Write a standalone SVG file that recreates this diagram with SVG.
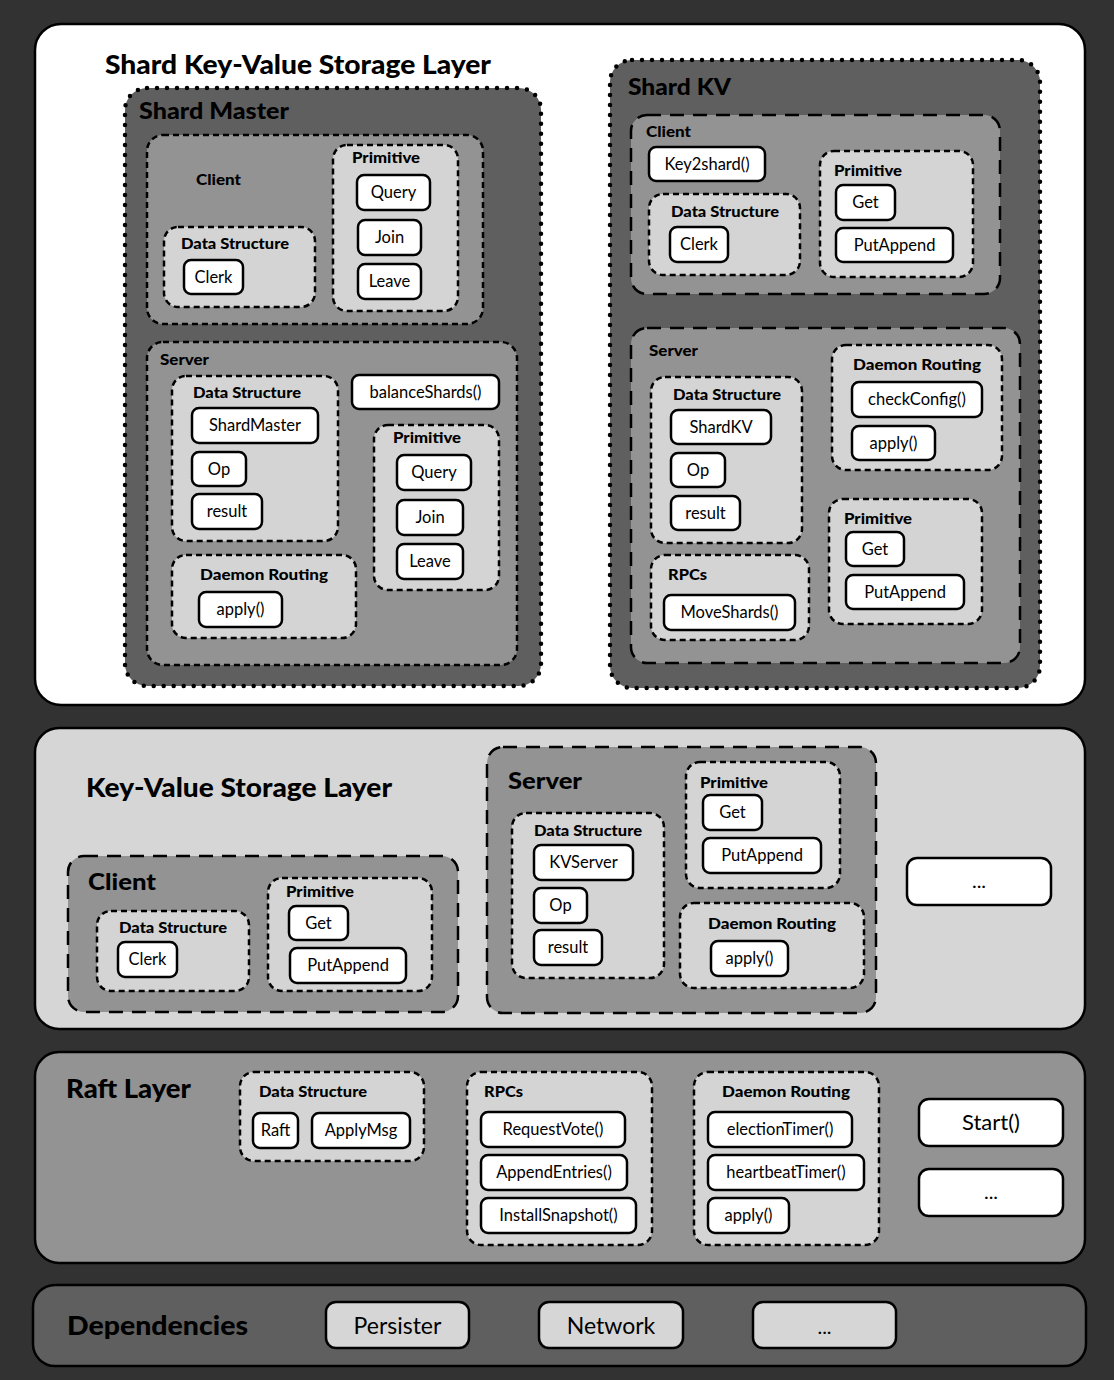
<svg xmlns="http://www.w3.org/2000/svg" width="1114" height="1380" viewBox="0 0 1114 1380">
<style>
text{font-family:Lato,"Noto Sans","Liberation Sans",sans-serif;fill:#000}
.layer{stroke:#000;stroke-width:2.5}
.dot{fill:#5f5f5f;stroke:#000;stroke-width:4.5;stroke-dasharray:0 10;stroke-linecap:round}
.ldash{fill:#939393;stroke:#000;stroke-width:2.5;stroke-dasharray:14 9}
.sdash{fill:#d4d4d4;stroke:#000;stroke-width:2.5;stroke-dasharray:6 4}
.leaf rect{fill:#fff;stroke:#000;stroke-width:2.5}
.leaf text{font-size:16.5px;text-anchor:middle}
.dep rect{fill:#d6d6d6;stroke:#000;stroke-width:2.5}
.dep text{font-size:23px;text-anchor:middle}
.big{font-size:26px;font-weight:900}
.mid{font-size:23px;font-weight:900}
.lbl{font-size:15.5px;font-weight:900}
</style>
<rect x="0" y="0" width="1114" height="1380" fill="#323232"/>

<!-- Shard KV Storage Layer -->
<g id="shard-layer">
<rect class="layer" x="35" y="24" width="1050" height="681" rx="26" fill="#fff"/>
<text class="big" x="105" y="74" textLength="386" lengthAdjust="spacingAndGlyphs">Shard Key-Value Storage Layer</text>
</g>

<g id="shard-master">
<rect class="dot" x="125" y="88" width="416" height="598" rx="22"/>
<text class="mid" x="139" y="119" textLength="150" lengthAdjust="spacingAndGlyphs">Shard Master</text>
</g>
<g id="sm-client">
<rect class="sdash" style="fill:#939393" x="147" y="135" width="336" height="189" rx="16"/>
<text class="lbl" x="196" y="185" textLength="45" lengthAdjust="spacingAndGlyphs">Client</text>
</g>
<g id="sm-client-ds">
<rect class="sdash" x="164" y="227" width="151" height="80" rx="14"/>
<text class="lbl" x="181" y="249" textLength="108" lengthAdjust="spacingAndGlyphs">Data Structure</text>
</g>
<g id="sm-client-clerk" class="leaf"><rect x="184" y="260" width="59" height="34" rx="7"/><text x="213.5" y="283">Clerk</text></g>
<g id="sm-client-prim">
<rect class="sdash" x="333" y="145" width="125" height="166" rx="14"/>
<text class="lbl" x="352" y="163" textLength="68" lengthAdjust="spacingAndGlyphs">Primitive</text>
</g>
<g id="sm-client-query" class="leaf"><rect x="357" y="175" width="73" height="35" rx="7"/><text x="393.5" y="198">Query</text></g>
<g id="sm-client-join" class="leaf"><rect x="358" y="220" width="63" height="35" rx="7"/><text x="389.5" y="243">Join</text></g>
<g id="sm-client-leave" class="leaf"><rect x="358" y="264" width="63" height="35" rx="7"/><text x="389.5" y="287">Leave</text></g>

<g id="sm-server">
<rect class="sdash" style="fill:#939393" x="147" y="342" width="370" height="323" rx="16"/>
<text class="lbl" x="160" y="365" textLength="49" lengthAdjust="spacingAndGlyphs">Server</text>
</g>
<g id="sm-server-ds">
<rect class="sdash" x="172" y="376" width="166" height="165" rx="14"/>
<text class="lbl" x="193" y="398" textLength="108" lengthAdjust="spacingAndGlyphs">Data Structure</text>
</g>
<g id="sm-shardmaster" class="leaf"><rect x="192" y="408" width="126" height="35" rx="7"/><text x="255" y="431">ShardMaster</text></g>
<g id="sm-op" class="leaf"><rect x="192" y="452" width="54" height="34" rx="7"/><text x="219" y="475">Op</text></g>
<g id="sm-result" class="leaf"><rect x="192" y="494" width="70" height="35" rx="7"/><text x="227" y="517">result</text></g>
<g id="sm-balance" class="leaf"><rect x="352" y="375" width="147" height="34" rx="7"/><text x="425.5" y="398">balanceShards()</text></g>
<g id="sm-server-prim">
<rect class="sdash" x="374" y="425" width="125" height="165" rx="14"/>
<text class="lbl" x="393" y="443" textLength="68" lengthAdjust="spacingAndGlyphs">Primitive</text>
</g>
<g id="sm-server-query" class="leaf"><rect x="397" y="455" width="74" height="35" rx="7"/><text x="434" y="478">Query</text></g>
<g id="sm-server-join" class="leaf"><rect x="397" y="500" width="66" height="35" rx="7"/><text x="430" y="523">Join</text></g>
<g id="sm-server-leave" class="leaf"><rect x="397" y="544" width="66" height="35" rx="7"/><text x="430" y="567">Leave</text></g>
<g id="sm-daemon">
<rect class="sdash" x="172" y="555" width="184" height="83" rx="14"/>
<text class="lbl" x="200" y="580" textLength="128" lengthAdjust="spacingAndGlyphs">Daemon Routing</text>
</g>
<g id="sm-apply" class="leaf"><rect x="199" y="592" width="83" height="35" rx="7"/><text x="240.5" y="615">apply()</text></g>

<!-- Shard KV -->
<g id="shard-kv">
<rect class="dot" x="610" y="60" width="430" height="628" rx="22"/>
<text class="mid" x="628" y="95" textLength="103" lengthAdjust="spacingAndGlyphs">Shard KV</text>
</g>
<g id="skv-client">
<rect class="ldash" x="631" y="115" width="369" height="179" rx="16"/>
<text class="lbl" x="646" y="137" textLength="45" lengthAdjust="spacingAndGlyphs">Client</text>
</g>
<g id="skv-key2shard" class="leaf"><rect x="649" y="147" width="116" height="34" rx="7"/><text x="707" y="170">Key2shard()</text></g>
<g id="skv-client-ds">
<rect class="sdash" x="649" y="194" width="151" height="81" rx="14"/>
<text class="lbl" x="671" y="217" textLength="108" lengthAdjust="spacingAndGlyphs">Data Structure</text>
</g>
<g id="skv-clerk" class="leaf"><rect x="670" y="227" width="58" height="35" rx="7"/><text x="699" y="250">Clerk</text></g>
<g id="skv-client-prim">
<rect class="sdash" x="820" y="151" width="153" height="126" rx="14"/>
<text class="lbl" x="834" y="176" textLength="68" lengthAdjust="spacingAndGlyphs">Primitive</text>
</g>
<g id="skv-client-get" class="leaf"><rect x="836" y="185" width="59" height="35" rx="7"/><text x="865.5" y="208">Get</text></g>
<g id="skv-client-putappend" class="leaf"><rect x="836" y="228" width="117" height="34" rx="7"/><text x="894.5" y="251">PutAppend</text></g>

<g id="skv-server">
<rect class="ldash" x="631" y="328" width="389" height="335" rx="16"/>
<text class="lbl" x="649" y="356" textLength="49" lengthAdjust="spacingAndGlyphs">Server</text>
</g>
<g id="skv-daemon">
<rect class="sdash" x="832" y="345" width="170" height="125" rx="14"/>
<text class="lbl" x="853" y="370" textLength="128" lengthAdjust="spacingAndGlyphs">Daemon Routing</text>
</g>
<g id="skv-checkconfig" class="leaf"><rect x="852" y="382" width="130" height="35" rx="7"/><text x="917" y="405">checkConfig()</text></g>
<g id="skv-apply" class="leaf"><rect x="852" y="426" width="83" height="34" rx="7"/><text x="893.5" y="449">apply()</text></g>
<g id="skv-server-ds">
<rect class="sdash" x="651" y="377" width="151" height="166" rx="14"/>
<text class="lbl" x="673" y="400" textLength="108" lengthAdjust="spacingAndGlyphs">Data Structure</text>
</g>
<g id="skv-shardkv" class="leaf"><rect x="671" y="410" width="100" height="34" rx="7"/><text x="721" y="433">ShardKV</text></g>
<g id="skv-op" class="leaf"><rect x="671" y="453" width="54" height="34" rx="7"/><text x="698" y="476">Op</text></g>
<g id="skv-result" class="leaf"><rect x="671" y="496" width="69" height="34" rx="7"/><text x="705.5" y="519">result</text></g>
<g id="skv-server-prim">
<rect class="sdash" x="829" y="499" width="153" height="125" rx="14"/>
<text class="lbl" x="844" y="524" textLength="68" lengthAdjust="spacingAndGlyphs">Primitive</text>
</g>
<g id="skv-server-get" class="leaf"><rect x="846" y="532" width="58" height="34" rx="7"/><text x="875" y="555">Get</text></g>
<g id="skv-server-putappend" class="leaf"><rect x="846" y="575" width="118" height="34" rx="7"/><text x="905" y="598">PutAppend</text></g>
<g id="skv-rpcs">
<rect class="sdash" x="651" y="555" width="158" height="85" rx="14"/>
<text class="lbl" x="668" y="580" textLength="39" lengthAdjust="spacingAndGlyphs">RPCs</text>
</g>
<g id="skv-moveshards" class="leaf"><rect x="664" y="595" width="131" height="35" rx="7"/><text x="729.5" y="618">MoveShards()</text></g>

<!-- KV Storage Layer -->
<g id="kv-layer">
<rect class="layer" x="35" y="728" width="1050" height="301" rx="24" fill="#d6d6d6"/>
<text class="big" x="86" y="797" textLength="306" lengthAdjust="spacingAndGlyphs">Key-Value Storage Layer</text>
</g>
<g id="kv-client">
<rect class="ldash" x="68" y="856" width="390" height="156" rx="16"/>
<text class="mid" x="88" y="890" textLength="68" lengthAdjust="spacingAndGlyphs">Client</text>
</g>
<g id="kv-client-ds">
<rect class="sdash" x="97" y="911" width="152" height="80" rx="14"/>
<text class="lbl" x="119" y="933" textLength="108" lengthAdjust="spacingAndGlyphs">Data Structure</text>
</g>
<g id="kv-clerk" class="leaf"><rect x="118" y="942" width="59" height="35" rx="7"/><text x="147.5" y="965">Clerk</text></g>
<g id="kv-client-prim">
<rect class="sdash" x="268" y="878" width="164" height="113" rx="14"/>
<text class="lbl" x="286" y="897" textLength="68" lengthAdjust="spacingAndGlyphs">Primitive</text>
</g>
<g id="kv-client-get" class="leaf"><rect x="289" y="906" width="59" height="34" rx="7"/><text x="318.5" y="929">Get</text></g>
<g id="kv-client-putappend" class="leaf"><rect x="290" y="948" width="116" height="35" rx="7"/><text x="348" y="971">PutAppend</text></g>

<g id="kv-server">
<rect class="ldash" x="487" y="747" width="389" height="266" rx="16"/>
<text class="mid" x="508" y="789" textLength="74" lengthAdjust="spacingAndGlyphs">Server</text>
</g>
<g id="kv-server-ds">
<rect class="sdash" x="512" y="813" width="152" height="165" rx="14"/>
<text class="lbl" x="534" y="836" textLength="108" lengthAdjust="spacingAndGlyphs">Data Structure</text>
</g>
<g id="kv-kvserver" class="leaf"><rect x="534" y="845" width="99" height="35" rx="7"/><text x="583.5" y="868">KVServer</text></g>
<g id="kv-op" class="leaf"><rect x="534" y="888" width="53" height="35" rx="7"/><text x="560.5" y="911">Op</text></g>
<g id="kv-result" class="leaf"><rect x="534" y="930" width="68" height="35" rx="7"/><text x="568" y="953">result</text></g>
<g id="kv-server-prim">
<rect class="sdash" x="686" y="762" width="154" height="126" rx="14"/>
<text class="lbl" x="700" y="788" textLength="68" lengthAdjust="spacingAndGlyphs">Primitive</text>
</g>
<g id="kv-server-get" class="leaf"><rect x="703" y="795" width="59" height="35" rx="7"/><text x="732.5" y="818">Get</text></g>
<g id="kv-server-putappend" class="leaf"><rect x="703" y="838" width="118" height="35" rx="7"/><text x="762" y="861">PutAppend</text></g>
<g id="kv-daemon">
<rect class="sdash" x="680" y="903" width="184" height="85" rx="14"/>
<text class="lbl" x="708" y="929" textLength="128" lengthAdjust="spacingAndGlyphs">Daemon Routing</text>
</g>
<g id="kv-apply" class="leaf"><rect x="711" y="941" width="77" height="35" rx="7"/><text x="749.5" y="964">apply()</text></g>
<g id="kv-more" class="leaf"><rect x="907" y="858" width="144" height="47" rx="10"/><text x="979" y="888" style="font-size:20px">...</text></g>

<!-- Raft Layer -->
<g id="raft-layer">
<rect class="layer" x="35" y="1052" width="1050" height="211" rx="24" fill="#939393"/>
<text class="big" x="66" y="1098" textLength="125" lengthAdjust="spacingAndGlyphs">Raft Layer</text>
</g>
<g id="raft-ds">
<rect class="sdash" x="240" y="1072" width="184" height="89" rx="14"/>
<text class="lbl" x="259" y="1097" textLength="108" lengthAdjust="spacingAndGlyphs">Data Structure</text>
</g>
<g id="raft-raft" class="leaf"><rect x="253" y="1113" width="45" height="35" rx="7"/><text x="275.5" y="1136">Raft</text></g>
<g id="raft-applymsg" class="leaf"><rect x="312" y="1113" width="98" height="35" rx="7"/><text x="361" y="1136">ApplyMsg</text></g>
<g id="raft-rpcs">
<rect class="sdash" x="467" y="1072" width="185" height="173" rx="14"/>
<text class="lbl" x="484" y="1097" textLength="39" lengthAdjust="spacingAndGlyphs">RPCs</text>
</g>
<g id="raft-requestvote" class="leaf"><rect x="481" y="1112" width="144" height="35" rx="7"/><text x="553" y="1135">RequestVote()</text></g>
<g id="raft-appendentries" class="leaf"><rect x="481" y="1155" width="146" height="35" rx="7"/><text x="554" y="1178">AppendEntries()</text></g>
<g id="raft-installsnapshot" class="leaf"><rect x="481" y="1198" width="155" height="35" rx="7"/><text x="558.5" y="1221">InstallSnapshot()</text></g>
<g id="raft-daemon">
<rect class="sdash" x="694" y="1072" width="185" height="173" rx="14"/>
<text class="lbl" x="722" y="1097" textLength="128" lengthAdjust="spacingAndGlyphs">Daemon Routing</text>
</g>
<g id="raft-electiontimer" class="leaf"><rect x="708" y="1112" width="144" height="35" rx="7"/><text x="780" y="1135">electionTimer()</text></g>
<g id="raft-heartbeattimer" class="leaf"><rect x="708" y="1155" width="156" height="35" rx="7"/><text x="786" y="1178">heartbeatTimer()</text></g>
<g id="raft-apply" class="leaf"><rect x="708" y="1198" width="81" height="35" rx="7"/><text x="748.5" y="1221">apply()</text></g>
<g id="raft-start" class="leaf"><rect x="919" y="1099" width="144" height="47" rx="10"/><text x="991" y="1130" style="font-size:22px">Start()</text></g>
<g id="raft-more" class="leaf"><rect x="919" y="1169" width="144" height="47" rx="10"/><text x="991" y="1199" style="font-size:20px">...</text></g>

<!-- Dependencies -->
<g id="dependencies">
<rect class="layer" x="33" y="1285" width="1053" height="81" rx="22" fill="#5f5f5f"/>
<text class="big" x="67" y="1335" textLength="181" lengthAdjust="spacingAndGlyphs">Dependencies</text>
</g>
<g id="dep-persister" class="dep"><rect x="326" y="1302" width="143" height="46" rx="10"/><text x="397.5" y="1334">Persister</text></g>
<g id="dep-network" class="dep"><rect x="539" y="1302" width="144" height="46" rx="10"/><text x="611" y="1334">Network</text></g>
<g id="dep-more" class="dep"><rect x="753" y="1302" width="143" height="46" rx="10"/><text x="824.5" y="1334" style="font-size:20px">...</text></g>

<g id="connectors"></g>
</svg>
